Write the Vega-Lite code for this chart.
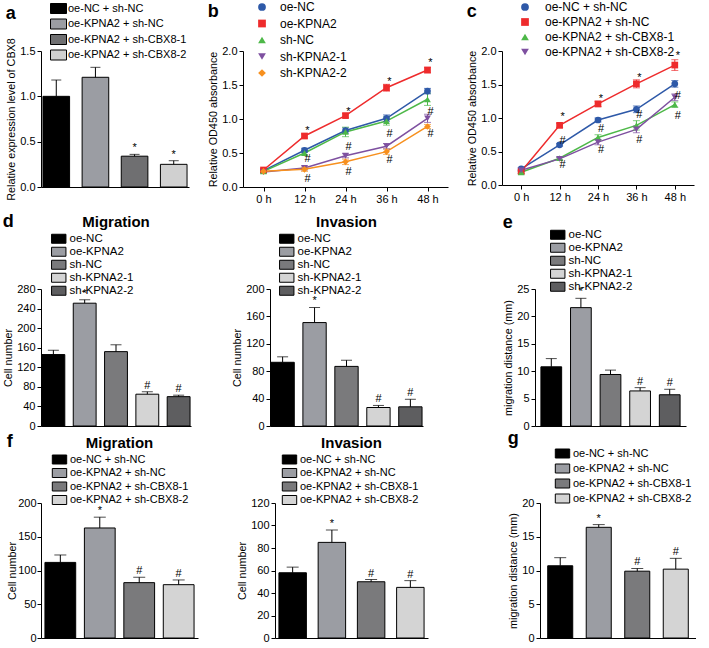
{
"$schema":"https://vega.github.io/schema/vega-lite/v6.json",
"padding":{"left":2,"top":1,"right":0,"bottom":0},
"config":{
 "font":"Liberation Sans",
 "view":{"stroke":null},
 "axis":{"domainColor":"#000","domainWidth":1,"tickColor":"#000","labelColor":"#000","titleColor":"#000","labelFontSize":11,"titleFontSize":10.8,"titleFontWeight":"normal","grid":false,"tickSize":4,"labelPadding":2,"titlePadding":3,"labelOverlap":false},
 "legend":{"labelColor":"#000","padding":0,"labelFontSize":11},
 "title":{"fontSize":18,"fontWeight":"bold","anchor":"start","frame":"bounds","color":"#000","offset":-18}
},
"datasets":{
 "a":[{"group":"oe-NC + sh-NC","value":1.0,"hi":1.18,"sig":""},{"group":"oe-KPNA2 + sh-NC","value":1.21,"hi":1.32,"sig":""},{"group":"oe-KPNA2 + sh-CBX8-1","value":0.34,"hi":0.36,"sig":"*"},{"group":"oe-KPNA2 + sh-CBX8-2","value":0.25,"hi":0.29,"sig":"*"}],
 "dm":[{"group":"oe-NC","value":146,"hi":155,"sig":""},{"group":"oe-KPNA2","value":251,"hi":258,"sig":"*"},{"group":"sh-NC","value":152,"hi":166,"sig":""},{"group":"sh-KPNA2-1","value":65,"hi":70,"sig":"#"},{"group":"sh-KPNA2-2","value":60,"hi":63,"sig":"#"}],
 "di":[{"group":"oe-NC","value":93,"hi":101,"sig":""},{"group":"oe-KPNA2","value":151,"hi":173,"sig":"*"},{"group":"sh-NC","value":87,"hi":96,"sig":""},{"group":"sh-KPNA2-1","value":27,"hi":30,"sig":"#"},{"group":"sh-KPNA2-2","value":28,"hi":39,"sig":"#"}],
 "e":[{"group":"oe-NC","value":10.8,"hi":12.3,"sig":""},{"group":"oe-KPNA2","value":21.6,"hi":23.3,"sig":"*"},{"group":"sh-NC","value":9.4,"hi":10.2,"sig":""},{"group":"sh-KPNA2-1","value":6.4,"hi":7.0,"sig":"#"},{"group":"sh-KPNA2-2","value":5.7,"hi":6.7,"sig":"#"}],
 "fm":[{"group":"oe-NC + sh-NC","value":112,"hi":123,"sig":""},{"group":"oe-KPNA2 + sh-NC","value":163,"hi":179,"sig":"*"},{"group":"oe-KPNA2 + sh-CBX8-1","value":82,"hi":90,"sig":"#"},{"group":"oe-KPNA2 + sh-CBX8-2","value":79,"hi":86,"sig":"#"}],
 "fi":[{"group":"oe-NC + sh-NC","value":58,"hi":63,"sig":""},{"group":"oe-KPNA2 + sh-NC","value":85,"hi":96,"sig":"*"},{"group":"oe-KPNA2 + sh-CBX8-1","value":50,"hi":52,"sig":"#"},{"group":"oe-KPNA2 + sh-CBX8-2","value":45,"hi":51,"sig":"#"}],
 "g":[{"group":"oe-NC + sh-NC","value":10.7,"hi":11.9,"sig":""},{"group":"oe-KPNA2 + sh-NC","value":16.4,"hi":16.8,"sig":"*"},{"group":"oe-KPNA2 + sh-CBX8-1","value":9.9,"hi":10.3,"sig":"#"},{"group":"oe-KPNA2 + sh-CBX8-2","value":10.2,"hi":11.8,"sig":"#"}],
 "b":[
  {"series":"oe-NC","t":"0 h","v":0.24,"lo":0.22,"hi":0.26},{"series":"oe-NC","t":"12 h","v":0.54,"lo":0.51,"hi":0.57},{"series":"oe-NC","t":"24 h","v":0.83,"lo":0.79,"hi":0.87},{"series":"oe-NC","t":"36 h","v":1.01,"lo":0.96,"hi":1.06},{"series":"oe-NC","t":"48 h","v":1.41,"lo":1.37,"hi":1.45},
  {"series":"oe-KPNA2","t":"0 h","v":0.25,"lo":0.23,"hi":0.27},{"series":"oe-KPNA2","t":"12 h","v":0.75,"lo":0.72,"hi":0.78},{"series":"oe-KPNA2","t":"24 h","v":1.05,"lo":1.02,"hi":1.08},{"series":"oe-KPNA2","t":"36 h","v":1.46,"lo":1.41,"hi":1.51},{"series":"oe-KPNA2","t":"48 h","v":1.72,"lo":1.68,"hi":1.76},
  {"series":"sh-NC","t":"0 h","v":0.23,"lo":0.21,"hi":0.25},{"series":"sh-NC","t":"12 h","v":0.50,"lo":0.47,"hi":0.53},{"series":"sh-NC","t":"24 h","v":0.81,"lo":0.74,"hi":0.88},{"series":"sh-NC","t":"36 h","v":0.97,"lo":0.91,"hi":1.03},{"series":"sh-NC","t":"48 h","v":1.29,"lo":1.2,"hi":1.38},
  {"series":"sh-KPNA2-1","t":"0 h","v":0.22,"lo":0.2,"hi":0.24},{"series":"sh-KPNA2-1","t":"12 h","v":0.28,"lo":0.25,"hi":0.31},{"series":"sh-KPNA2-1","t":"24 h","v":0.46,"lo":0.43,"hi":0.49},{"series":"sh-KPNA2-1","t":"36 h","v":0.60,"lo":0.56,"hi":0.64},{"series":"sh-KPNA2-1","t":"48 h","v":1.01,"lo":0.95,"hi":1.07},
  {"series":"sh-KPNA2-2","t":"0 h","v":0.23,"lo":0.21,"hi":0.25},{"series":"sh-KPNA2-2","t":"12 h","v":0.26,"lo":0.23,"hi":0.29},{"series":"sh-KPNA2-2","t":"24 h","v":0.37,"lo":0.33,"hi":0.41},{"series":"sh-KPNA2-2","t":"36 h","v":0.52,"lo":0.48,"hi":0.56},{"series":"sh-KPNA2-2","t":"48 h","v":0.89,"lo":0.86,"hi":0.92}
 ],
 "bAnn":[
  {"t":"12 h","y":0.83,"label":"*"},{"t":"24 h","y":1.11,"label":"*"},{"t":"36 h","y":1.55,"label":"*"},{"t":"48 h","y":1.82,"label":"*"},
  {"t":"12 h","y":0.41,"label":"#"},{"t":"12 h","y":0.12,"label":"#"},{"t":"24 h","y":0.59,"label":"#"},{"t":"24 h","y":0.22,"label":"#"},
  {"t":"36 h","y":0.78,"label":"#"},{"t":"36 h","y":0.40,"label":"#"},{"t":"48 h","y":1.10,"label":"#"},{"t":"48 h","y":0.78,"label":"#"}
 ],
 "c":[
  {"series":"oe-NC + sh-NC","t":"0 h","v":0.24,"lo":0.22,"hi":0.26},{"series":"oe-NC + sh-NC","t":"12 h","v":0.60,"lo":0.58,"hi":0.62},{"series":"oe-NC + sh-NC","t":"24 h","v":0.97,"lo":0.94,"hi":1.0},{"series":"oe-NC + sh-NC","t":"36 h","v":1.13,"lo":1.08,"hi":1.18},{"series":"oe-NC + sh-NC","t":"48 h","v":1.51,"lo":1.46,"hi":1.56},
  {"series":"oe-KPNA2 + sh-NC","t":"0 h","v":0.20,"lo":0.18,"hi":0.22},{"series":"oe-KPNA2 + sh-NC","t":"12 h","v":0.89,"lo":0.86,"hi":0.92},{"series":"oe-KPNA2 + sh-NC","t":"24 h","v":1.21,"lo":1.17,"hi":1.25},{"series":"oe-KPNA2 + sh-NC","t":"36 h","v":1.51,"lo":1.45,"hi":1.57},{"series":"oe-KPNA2 + sh-NC","t":"48 h","v":1.79,"lo":1.71,"hi":1.87},
  {"series":"oe-KPNA2 + sh-CBX8-1","t":"0 h","v":0.19,"lo":0.17,"hi":0.21},{"series":"oe-KPNA2 + sh-CBX8-1","t":"12 h","v":0.40,"lo":0.38,"hi":0.42},{"series":"oe-KPNA2 + sh-CBX8-1","t":"24 h","v":0.71,"lo":0.67,"hi":0.75},{"series":"oe-KPNA2 + sh-CBX8-1","t":"36 h","v":0.89,"lo":0.82,"hi":0.96},{"series":"oe-KPNA2 + sh-CBX8-1","t":"48 h","v":1.20,"lo":1.16,"hi":1.24},
  {"series":"oe-KPNA2 + sh-CBX8-2","t":"0 h","v":0.22,"lo":0.2,"hi":0.24},{"series":"oe-KPNA2 + sh-CBX8-2","t":"12 h","v":0.39,"lo":0.37,"hi":0.41},{"series":"oe-KPNA2 + sh-CBX8-2","t":"24 h","v":0.64,"lo":0.6,"hi":0.68},{"series":"oe-KPNA2 + sh-CBX8-2","t":"36 h","v":0.83,"lo":0.78,"hi":0.88},{"series":"oe-KPNA2 + sh-CBX8-2","t":"48 h","v":1.31,"lo":1.26,"hi":1.36}
 ],
 "cAnn":[
  {"t":"12 h","y":1.02,"label":"*"},{"t":"24 h","y":1.29,"label":"*"},{"t":"36 h","y":1.60,"label":"*"},{"t":"48 h","y":1.92,"label":"*"},
  {"t":"12 h","y":0.66,"label":"#"},{"t":"12 h","y":0.30,"label":"#"},{"t":"24 h","y":0.84,"label":"#"},{"t":"24 h","y":0.52,"label":"#"},
  {"t":"36 h","y":1.04,"label":"#"},{"t":"36 h","y":0.67,"label":"#"},{"t":"48 h","y":1.33,"label":"#"},{"t":"48 h","y":1.03,"label":"#"}
 ]
},
"spacing":9,
"resolve":{"scale":{"color":"independent","shape":"independent","stroke":"independent","fill":"independent"}},
"vconcat":[
 {"spacing":18,"resolve":{"scale":{"color":"independent","shape":"independent","stroke":"independent","fill":"independent"}},"hconcat":[
  {"data":{"name":"a"},"width":148,"height":136,"title":{"text":"a","offset":-20},
   "encoding":{"x":{"field":"group","type":"nominal","sort":null,"axis":{"labels":false,"ticks":false,"title":null},"scale":{"paddingInner":0.32,"paddingOuter":0.05}}},
   "layer":[
    {"mark":{"type":"bar","stroke":"#000","strokeWidth":1},"encoding":{"y":{"field":"value","type":"quantitative","scale":{"domain":[0,1.5],"nice":false},"axis":{"values":[0,0.5,1,1.5],"tickCount":20,"format":".1f","title":"Relative expression level of CBX8"}},"color":{"field":"group","type":"nominal","sort":null,"scale":{"range":["#000000","#9B9DA3","#6F6F71","#D0D0D0"]},"legend":{"orient":"none","legendX":12,"legendY":-48,"title":null,"symbolType":"M-1.6,-1H1.6V1H-1.6Z","symbolSize":100,"symbolStrokeColor":"#000","symbolStrokeWidth":1,"labelFontSize":11,"rowPadding":0.5,"labelOffset":4}}}},
    {"mark":{"type":"rule","color":"#000"},"encoding":{"y":{"field":"value","type":"quantitative"},"y2":{"field":"hi"}}},
    {"mark":{"type":"tick","color":"#000","size":10,"thickness":1},"encoding":{"y":{"field":"hi","type":"quantitative"}}},
    {"mark":{"type":"text","baseline":"bottom","dy":-1,"fontSize":11},"encoding":{"y":{"field":"hi","type":"quantitative"},"text":{"field":"sig"}}}
   ]},
  {"spacing":18,"resolve":{"scale":{"color":"independent","shape":"independent","stroke":"independent","fill":"independent"}},"hconcat":[
   {"width":205,"height":136,"title":{"text":"b","offset":-20},
    "layer":[
     {"data":{"name":"b"},"mark":{"type":"line","strokeWidth":1.5},"encoding":{"x":{"field":"t","type":"ordinal","sort":null,"scale":{"type":"point","padding":0.5},"axis":{"title":null,"labelAngle":0}},"y":{"field":"v","type":"quantitative","scale":{"domain":[0,2],"nice":false},"axis":{"values":[0,0.5,1,1.5,2],"tickCount":20,"format":".1f","title":"Relative OD450 absorbance"}},"stroke":{"field":"series","type":"nominal","sort":null,"scale":{"range":["#2E59A8","#EE2B2C","#4DB848","#7E50A0","#F7901E"]},"legend":null}}},
     {"data":{"name":"b"},"mark":{"type":"rule","strokeWidth":1},"encoding":{"x":{"field":"t","type":"ordinal","sort":null},"y":{"field":"lo","type":"quantitative"},"y2":{"field":"hi"},"stroke":{"field":"series","type":"nominal","sort":null,"legend":null}}},
     {"data":{"name":"b"},"mark":{"type":"tick","size":7,"thickness":1},"encoding":{"x":{"field":"t","type":"ordinal","sort":null},"y":{"field":"hi","type":"quantitative"},"fill":{"field":"series","type":"nominal","sort":null,"scale":{"range":["#2E59A8","#EE2B2C","#4DB848","#7E50A0","#F7901E"]},"legend":null}}},
     {"data":{"name":"b"},"mark":{"type":"tick","size":7,"thickness":1},"encoding":{"x":{"field":"t","type":"ordinal","sort":null},"y":{"field":"lo","type":"quantitative"},"fill":{"field":"series","type":"nominal","sort":null,"legend":null}}},
     {"data":{"name":"b"},"mark":{"type":"point","filled":true,"size":45,"opacity":1},"encoding":{"x":{"field":"t","type":"ordinal","sort":null},"y":{"field":"v","type":"quantitative"},"color":{"field":"series","type":"nominal","sort":null,"scale":{"range":["#2E59A8","#EE2B2C","#4DB848","#7E50A0","#F7901E"]},"legend":{"orient":"none","legendX":13,"legendY":-50,"title":null,"labelFontSize":12,"rowPadding":4.5,"symbolSize":60,"labelOffset":12}},"shape":{"field":"series","type":"nominal","sort":null,"scale":{"range":["circle","square","triangle-up","triangle-down","diamond"]},"legend":{"orient":"none","legendX":13,"legendY":-50,"title":null,"labelFontSize":12,"rowPadding":4.5,"symbolSize":60,"labelOffset":12}}}},
     {"data":{"name":"bAnn"},"mark":{"type":"text","fontSize":11,"dx":3},"encoding":{"x":{"field":"t","type":"ordinal","sort":null},"y":{"field":"y","type":"quantitative"},"text":{"field":"label"}}}
    ]},
   {"width":192,"height":134,"title":{"text":"c","offset":-20},
    "layer":[
     {"data":{"name":"c"},"mark":{"type":"line","strokeWidth":1.5},"encoding":{"x":{"field":"t","type":"ordinal","sort":null,"scale":{"type":"point","padding":0.5},"axis":{"title":null,"labelAngle":0}},"y":{"field":"v","type":"quantitative","scale":{"domain":[0,2],"nice":false},"axis":{"values":[0,0.5,1,1.5,2],"tickCount":20,"format":".1f","title":"Relative OD450 absorbance"}},"stroke":{"field":"series","type":"nominal","sort":null,"scale":{"range":["#2E59A8","#EE2B2C","#4DB848","#7E50A0"]},"legend":null}}},
     {"data":{"name":"c"},"mark":{"type":"rule","strokeWidth":1},"encoding":{"x":{"field":"t","type":"ordinal","sort":null},"y":{"field":"lo","type":"quantitative"},"y2":{"field":"hi"},"stroke":{"field":"series","type":"nominal","sort":null,"legend":null}}},
     {"data":{"name":"c"},"mark":{"type":"tick","size":7,"thickness":1},"encoding":{"x":{"field":"t","type":"ordinal","sort":null},"y":{"field":"hi","type":"quantitative"},"fill":{"field":"series","type":"nominal","sort":null,"scale":{"range":["#2E59A8","#EE2B2C","#4DB848","#7E50A0"]},"legend":null}}},
     {"data":{"name":"c"},"mark":{"type":"tick","size":7,"thickness":1},"encoding":{"x":{"field":"t","type":"ordinal","sort":null},"y":{"field":"lo","type":"quantitative"},"fill":{"field":"series","type":"nominal","sort":null,"legend":null}}},
     {"data":{"name":"c"},"mark":{"type":"point","filled":true,"size":45,"opacity":1},"encoding":{"x":{"field":"t","type":"ordinal","sort":null},"y":{"field":"v","type":"quantitative"},"color":{"field":"series","type":"nominal","sort":null,"scale":{"range":["#2E59A8","#EE2B2C","#4DB848","#7E50A0"]},"legend":{"orient":"none","legendX":17,"legendY":-50,"title":null,"labelFontSize":12,"rowPadding":3,"symbolSize":60,"labelOffset":14}},"shape":{"field":"series","type":"nominal","sort":null,"scale":{"range":["circle","square","triangle-up","triangle-down"]},"legend":{"orient":"none","legendX":17,"legendY":-50,"title":null,"labelFontSize":12,"rowPadding":3,"symbolSize":60,"labelOffset":14}}}},
     {"data":{"name":"cAnn"},"mark":{"type":"text","fontSize":11,"dx":3},"encoding":{"x":{"field":"t","type":"ordinal","sort":null},"y":{"field":"y","type":"quantitative"},"text":{"field":"label"}}}
    ]}
  ]}
 ]},
 {"spacing":-1,"resolve":{"scale":{"color":"independent","shape":"independent"}},"vconcat":[
 {"spacing":79,"resolve":{"scale":{"color":"independent","shape":"independent"}},"hconcat":[
  {"spacing":40,"resolve":{"scale":{"color":"independent"}},"title":{"text":"d","offset":-16},"hconcat":[
   {"data":{"name":"dm"},"width":150,"height":137,"title":{"text":"Migration","anchor":"middle","frame":"group","fontSize":15,"offset":3},
    "encoding":{"x":{"field":"group","type":"nominal","sort":null,"axis":{"labels":false,"ticks":false,"title":null},"scale":{"paddingInner":0.27,"paddingOuter":0.03}}},
    "layer":[
     {"mark":{"type":"bar","stroke":"#000","strokeWidth":1},"encoding":{"y":{"field":"value","type":"quantitative","scale":{"domain":[0,280],"nice":false},"axis":{"values":[0,40,80,120,160,200,240,280],"tickCount":20,"title":"Cell number"}},"color":{"field":"group","type":"nominal","sort":null,"scale":{"range":["#000000","#9B9DA3","#7A7A7C","#D4D4D4","#5E5E60"]},"legend":{"orient":"none","legendX":12,"legendY":-56,"title":null,"symbolType":"M-1.6,-1H1.6V1H-1.6Z","symbolSize":81,"symbolStrokeColor":"#000","symbolStrokeWidth":1,"labelFontSize":11.5,"rowPadding":-3.5,"labelOffset":5}}}},
     {"mark":{"type":"rule","color":"#000"},"encoding":{"y":{"field":"value","type":"quantitative"},"y2":{"field":"hi"}}},
     {"mark":{"type":"tick","color":"#000","size":11,"thickness":1},"encoding":{"y":{"field":"hi","type":"quantitative"}}},
     {"mark":{"type":"text","baseline":"bottom","dy":-1,"fontSize":11},"encoding":{"y":{"field":"hi","type":"quantitative"},"text":{"field":"sig"}}}
    ]},
   {"data":{"name":"di"},"width":153,"height":137,"title":{"text":"Invasion","anchor":"middle","frame":"group","fontSize":15,"offset":3},
    "encoding":{"x":{"field":"group","type":"nominal","sort":null,"axis":{"labels":false,"ticks":false,"title":null},"scale":{"paddingInner":0.27,"paddingOuter":0.03}}},
    "layer":[
     {"mark":{"type":"bar","stroke":"#000","strokeWidth":1},"encoding":{"y":{"field":"value","type":"quantitative","scale":{"domain":[0,200],"nice":false},"axis":{"values":[0,40,80,120,160,200],"tickCount":20,"title":"Cell number"}},"color":{"field":"group","type":"nominal","sort":null,"scale":{"range":["#000000","#9B9DA3","#7A7A7C","#D4D4D4","#5E5E60"]},"legend":{"orient":"none","legendX":11,"legendY":-56,"title":null,"symbolType":"M-1.6,-1H1.6V1H-1.6Z","symbolSize":81,"symbolStrokeColor":"#000","symbolStrokeWidth":1,"labelFontSize":11.5,"rowPadding":-3.5,"labelOffset":5}}}},
     {"mark":{"type":"rule","color":"#000"},"encoding":{"y":{"field":"value","type":"quantitative"},"y2":{"field":"hi"}}},
     {"mark":{"type":"tick","color":"#000","size":11,"thickness":1},"encoding":{"y":{"field":"hi","type":"quantitative"}}},
     {"mark":{"type":"text","baseline":"bottom","dy":-1,"fontSize":11},"encoding":{"y":{"field":"hi","type":"quantitative"},"text":{"field":"sig"}}}
    ]}
  ]},
  {"data":{"name":"e"},"width":151,"height":137,"title":{"text":"e","offset":-3},
   "encoding":{"x":{"field":"group","type":"nominal","sort":null,"axis":{"labels":false,"ticks":false,"title":null},"scale":{"paddingInner":0.3,"paddingOuter":0.2}}},
   "layer":[
    {"mark":{"type":"bar","stroke":"#000","strokeWidth":1},"encoding":{"y":{"field":"value","type":"quantitative","scale":{"domain":[0,25],"nice":false},"axis":{"values":[0,5,10,15,20,25],"tickCount":20,"title":"migration distance (mm)"}},"color":{"field":"group","type":"nominal","sort":null,"scale":{"range":["#000000","#9B9DA3","#7A7A7C","#D4D4D4","#5E5E60"]},"legend":{"orient":"none","legendX":17,"legendY":-60,"title":null,"symbolType":"M-1.6,-1H1.6V1H-1.6Z","symbolSize":81,"symbolStrokeColor":"#000","symbolStrokeWidth":1,"labelFontSize":11.5,"rowPadding":-1.5,"labelOffset":5}}}},
    {"mark":{"type":"rule","color":"#000"},"encoding":{"y":{"field":"value","type":"quantitative"},"y2":{"field":"hi"}}},
    {"mark":{"type":"tick","color":"#000","size":11,"thickness":1},"encoding":{"y":{"field":"hi","type":"quantitative"}}},
    {"mark":{"type":"text","baseline":"bottom","dy":-1,"fontSize":11},"encoding":{"y":{"field":"hi","type":"quantitative"},"text":{"field":"sig"}}}
   ]}
 ]},
 {"spacing":79,"resolve":{"scale":{"color":"independent","shape":"independent"}},"hconcat":[
  {"spacing":38,"resolve":{"scale":{"color":"independent"}},"title":{"text":"f","offset":-15},"hconcat":[
   {"data":{"name":"fm"},"width":157,"height":135,"title":{"text":"Migration","anchor":"middle","frame":"group","fontSize":15,"offset":3},
    "encoding":{"x":{"field":"group","type":"nominal","sort":null,"axis":{"labels":false,"ticks":false,"title":null},"scale":{"paddingInner":0.22,"paddingOuter":0.1}}},
    "layer":[
     {"mark":{"type":"bar","stroke":"#000","strokeWidth":1},"encoding":{"y":{"field":"value","type":"quantitative","scale":{"domain":[0,200],"nice":false},"axis":{"values":[0,50,100,150,200],"tickCount":20,"title":"Cell number","titlePadding":0,"labelPadding":1}},"color":{"field":"group","type":"nominal","sort":null,"scale":{"range":["#000000","#9B9DA3","#7A7A7C","#D4D4D4"]},"legend":{"orient":"none","legendX":13,"legendY":-49,"title":null,"symbolType":"M-1.6,-1H1.6V1H-1.6Z","symbolSize":81,"symbolStrokeColor":"#000","symbolStrokeWidth":1,"labelFontSize":11,"rowPadding":0.5,"labelOffset":5}}}},
     {"mark":{"type":"rule","color":"#000"},"encoding":{"y":{"field":"value","type":"quantitative"},"y2":{"field":"hi"}}},
     {"mark":{"type":"tick","color":"#000","size":12,"thickness":1},"encoding":{"y":{"field":"hi","type":"quantitative"}}},
     {"mark":{"type":"text","baseline":"bottom","dy":-1,"fontSize":11},"encoding":{"y":{"field":"hi","type":"quantitative"},"text":{"field":"sig"}}}
    ]},
   {"data":{"name":"fi"},"width":153,"height":135,"title":{"text":"Invasion","anchor":"middle","frame":"group","fontSize":15,"offset":3},
    "encoding":{"x":{"field":"group","type":"nominal","sort":null,"axis":{"labels":false,"ticks":false,"title":null},"scale":{"paddingInner":0.3,"paddingOuter":0.1}}},
    "layer":[
     {"mark":{"type":"bar","stroke":"#000","strokeWidth":1},"encoding":{"y":{"field":"value","type":"quantitative","scale":{"domain":[0,120],"nice":false},"axis":{"values":[0,20,40,60,80,100,120],"tickCount":20,"title":"Cell number"}},"color":{"field":"group","type":"nominal","sort":null,"scale":{"range":["#000000","#9B9DA3","#7A7A7C","#D4D4D4"]},"legend":{"orient":"none","legendX":9,"legendY":-49,"title":null,"symbolType":"M-1.6,-1H1.6V1H-1.6Z","symbolSize":81,"symbolStrokeColor":"#000","symbolStrokeWidth":1,"labelFontSize":11,"rowPadding":0.5,"labelOffset":5}}}},
     {"mark":{"type":"rule","color":"#000"},"encoding":{"y":{"field":"value","type":"quantitative"},"y2":{"field":"hi"}}},
     {"mark":{"type":"tick","color":"#000","size":12,"thickness":1},"encoding":{"y":{"field":"hi","type":"quantitative"}}},
     {"mark":{"type":"text","baseline":"bottom","dy":-1,"fontSize":11},"encoding":{"y":{"field":"hi","type":"quantitative"},"text":{"field":"sig"}}}
    ]}
  ]},
  {"data":{"name":"g"},"width":156,"height":135,"title":{"text":"g","offset":0},
   "encoding":{"x":{"field":"group","type":"nominal","sort":null,"axis":{"labels":false,"ticks":false,"title":null},"scale":{"paddingInner":0.35,"paddingOuter":0.2}}},
   "layer":[
    {"mark":{"type":"bar","stroke":"#000","strokeWidth":1},"encoding":{"y":{"field":"value","type":"quantitative","scale":{"domain":[0,20],"nice":false},"axis":{"values":[0,5,10,15,20],"tickCount":20,"title":"migration distance (mm)"}},"color":{"field":"group","type":"nominal","sort":null,"scale":{"range":["#000000","#9B9DA3","#7A7A7C","#D4D4D4"]},"legend":{"orient":"none","legendX":17,"legendY":-55,"title":null,"symbolType":"M-1.6,-1H1.6V1H-1.6Z","symbolSize":81,"symbolStrokeColor":"#000","symbolStrokeWidth":1,"labelFontSize":11,"rowPadding":2,"labelOffset":5}}}},
    {"mark":{"type":"rule","color":"#000"},"encoding":{"y":{"field":"value","type":"quantitative"},"y2":{"field":"hi"}}},
    {"mark":{"type":"tick","color":"#000","size":12,"thickness":1},"encoding":{"y":{"field":"hi","type":"quantitative"}}},
    {"mark":{"type":"text","baseline":"bottom","dy":-1,"fontSize":11},"encoding":{"y":{"field":"hi","type":"quantitative"},"text":{"field":"sig"}}}
   ]}
 ]}
 ]}
]
}
